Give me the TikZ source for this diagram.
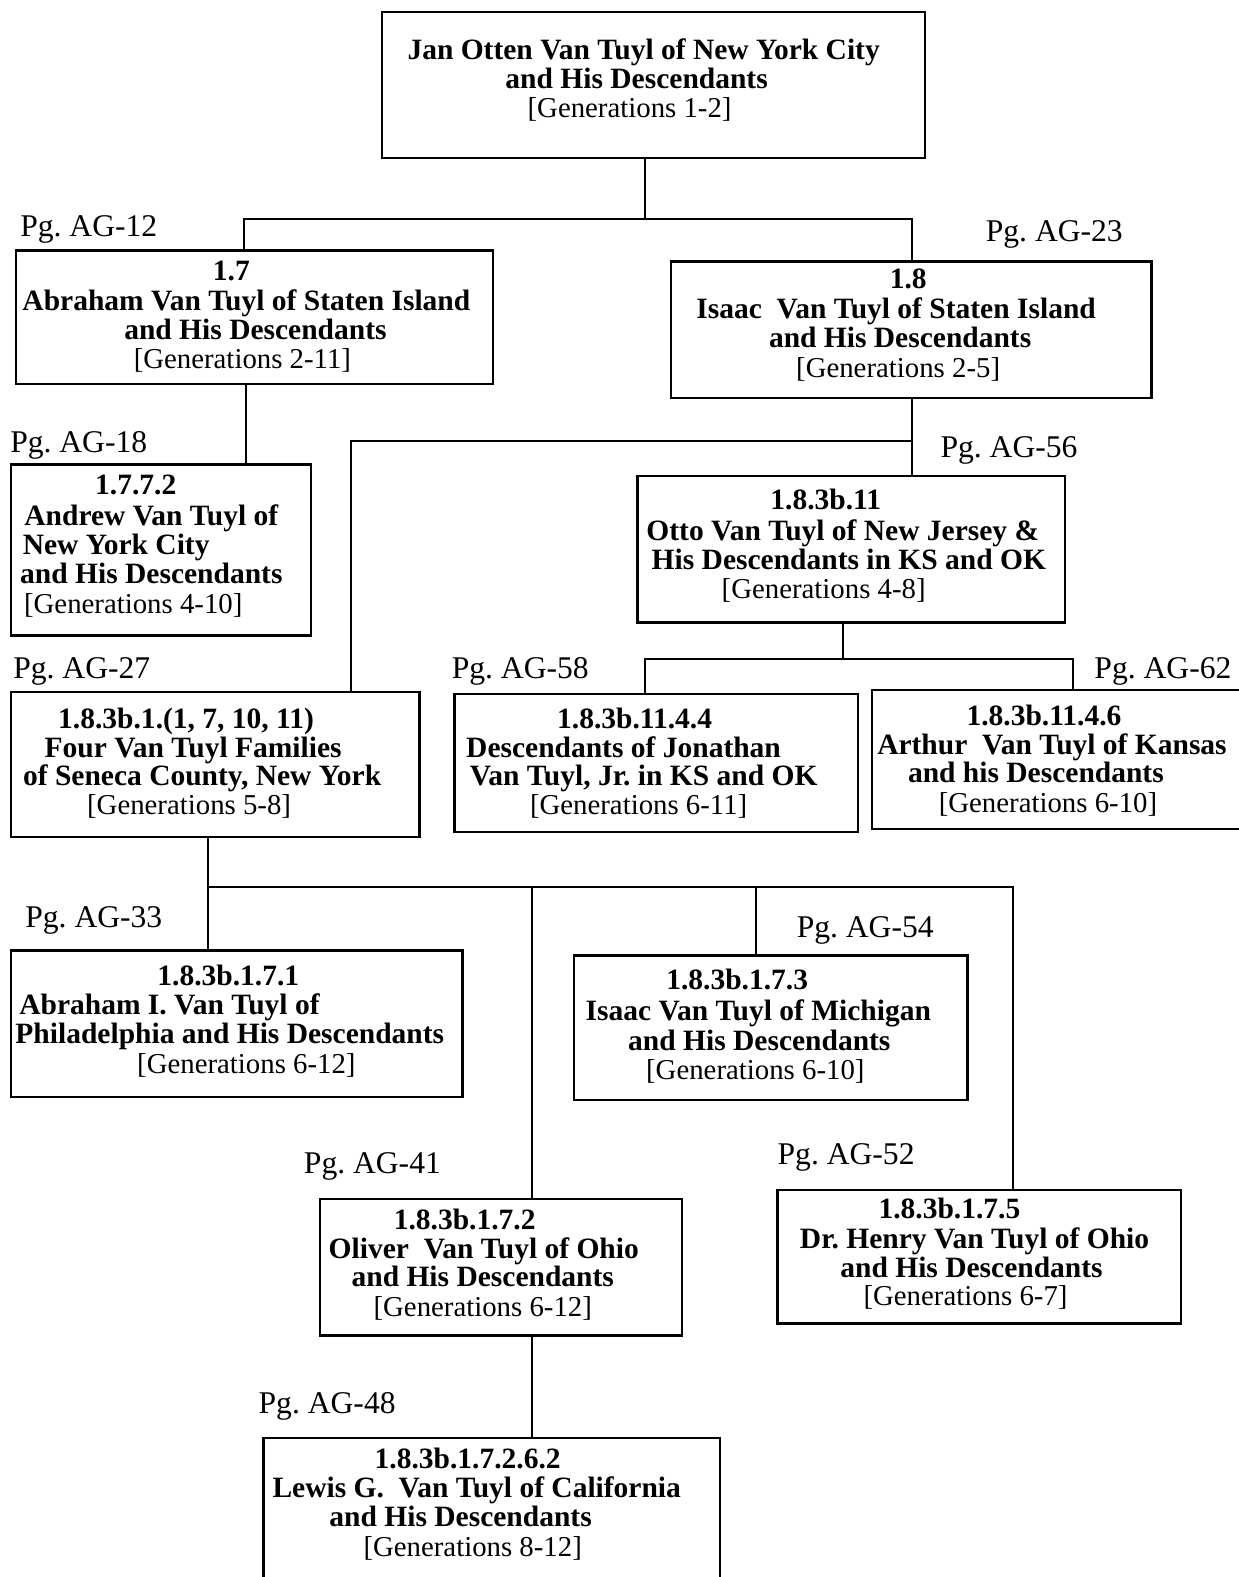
\documentclass[tikz,border=0pt]{standalone}
\usepackage{fontspec}
\setmainfont{Liberation Serif}
\usetikzlibrary{fit}
\frenchspacing
\begin{document}
\begin{tikzpicture}[x=1.0057pt,y=-1.0057pt,
  box/.style={draw, line width=2.4pt, inner sep=0pt},
  conn/.style={line width=2pt},
  bt/.style={anchor=base, inner sep=0pt, font=\fontsize{29.5}{29}\selectfont\bfseries},
  rt/.style={anchor=base, inner sep=0pt, font=\fontsize{28.8}{29}\selectfont},
  pg/.style={anchor=base west, inner sep=0pt, font=\fontsize{31.6}{32}\selectfont}]
\useasboundingbox[fill=white] (0,0) rectangle (1231,1568);

% ---------- boxes ----------
\node[box, fit={(380,12) (920,157)}] (top) {};
\node[box, fit={(16,249) (490,382)}] (b17) {};
\node[box, fit={(667,260) (1145,396)}] (b18) {};
\node[box, fit={(11,462) (309,632)}] (b1772) {};
\node[box, fit={(634,473) (1059,619)}] (botto) {};
\node[box, fit={(11,688) (417,832)}] (bfour) {};
\node[box, fit={(452,690) (853,827)}] (bj) {};
\node[box, fit={(867,686) (1245,824)}] (bart) {};
\node[box, fit={(11,945) (460,1091)}] (bp) {};
\node[box, fit={(571,950) (962,1094)}] (bm) {};
\node[box, fit={(318,1192) (678,1328)}] (bo) {};
\node[box, fit={(773,1183) (1174,1316)}] (bh) {};
\node[box, fit={(262,1430) (716,1580)}] (bl) {};

% ---------- connectors ----------
\coordinate (j1) at (641,218);
\coordinate (j1l) at (243,218);
\coordinate (j1r) at (907,218);
\draw[conn] (top.south -| j1) -- (j1);
\draw[conn] (b17.north -| j1l) -- (j1l) -- (j1r) -- (b18.north -| j1r);

\coordinate (j2) at (245,400);
\draw[conn] (b17.south -| j2) -- (b1772.north -| j2);

\coordinate (j3) at (907,438);
\coordinate (j3l) at (349,438);
\draw[conn] (b18.south -| j3) -- (botto.north -| j3);
\draw[conn] (j3) -- (j3l) -- (bfour.north -| j3l);

\coordinate (j4) at (838,655);
\coordinate (j4l) at (641,655);
\coordinate (j4r) at (1067,655);
\draw[conn] (botto.south -| j4) -- (j4);
\draw[conn] (bj.north -| j4l) -- (j4l) -- (j4r) -- (bart.north -| j4r);

\coordinate (j5) at (207,882);
\coordinate (j5a) at (529,882);
\coordinate (j5b) at (752,882);
\coordinate (j5r) at (1007,882);
\draw[conn] (bfour.south -| j5) -- (bp.north -| j5);
\draw[conn] (j5) -- (j5r) -- (bh.north -| j5r);
\draw[conn] (j5a) -- (bo.north -| j5a);
\draw[conn] (j5b) -- (bm.north -| j5b);

\coordinate (j6) at (529,1380);
\draw[conn] (bo.south -| j6) -- (bl.north -| j6);

% ---------- page labels ----------
\node[pg] (p12) at (20,235) {Pg. AG-12};
\node[pg] (p23) at (980,240) {Pg. AG-23};
\node[pg] (p18) at (10,450) {Pg. AG-18};
\node[pg] (p56) at (935,455) {Pg. AG-56};
\node[pg] (p27) at (13,675) {Pg. AG-27};
\node[pg] (p58) at (449,675) {Pg. AG-58};
\node[pg] (p62) at (1088,675) {Pg. AG-62};
\node[pg] (p33) at (25,922) {Pg. AG-33};
\node[pg] (p54) at (792,932) {Pg. AG-54};
\node[pg] (p41) at (302,1167) {Pg. AG-41};
\node[pg] (p52) at (773,1158) {Pg. AG-52};
\node[pg] (p48) at (257,1405) {Pg. AG-48};

% ---------- box texts ----------
\node[bt] (ta1) at (640,59) {Jan Otten Van Tuyl of New York City};
\node[bt] (ta2) at (633,88) {and His Descendants};
\node[rt] (ta3) at (626,117) {[Generations 1-2]};

\node[bt] (tb1) at (230,279) {1.7};
\node[bt] (tb2) at (245,309) {Abraham Van Tuyl of Staten Island};
\node[bt] (tb3) at (254,338) {and His Descendants};
\node[rt] (tb4) at (241,366) {[Generations 2-11]};

\node[bt] (tc1) at (903,287) {1.8};
\node[bt] (tc2) at (891,317) {Isaac\ \ Van Tuyl of Staten Island};
\node[bt] (tc3) at (895,346) {and His Descendants};
\node[rt] (tc4) at (893,375) {[Generations 2-5]};

\node[bt] (td1) at (135,492) {1.7.7.2};
\node[bt] (td2) at (150.5,522) {Andrew Van Tuyl of};
\node[bt] (td3) at (115.5,551) {New York City};
\node[bt] (td4) at (150.5,580) {and His Descendants};
\node[rt] (td5) at (132.5,610) {[Generations 4-10]};

\node[bt] (te1) at (821,507) {1.8.3b.11};
\node[bt] (te2) at (838,537) {Otto Van Tuyl of New Jersey \&};
\node[bt] (te3) at (844,566) {His Descendants in KS and OK};
\node[rt] (te4) at (819,595) {[Generations 4-8]};

\node[bt] (tf1) at (185,724) {1.8.3b.1.(1, 7, 10, 11)};
\node[bt] (tf2) at (192,753) {Four Van Tuyl Families};
\node[bt] (tf3) at (201,781) {of Seneca County, New York};
\node[rt] (tf4) at (188,810) {[Generations 5-8]};

\node[bt] (tg1) at (631,724) {1.8.3b.11.4.4};
\node[bt] (tg2) at (620,753) {Descendants of Jonathan};
\node[bt] (tg3) at (640,781) {Van Tuyl, Jr. in KS and OK};
\node[rt] (tg4) at (635,810) {[Generations 6-11]};

\node[bt] (th1) at (1038,721) {1.8.3b.11.4.6};
\node[bt] (th2) at (1046,750) {Arthur\ \ Van Tuyl of Kansas};
\node[bt] (th3) at (1030,778) {and his Descendants};
\node[rt] (th4) at (1042,808) {[Generations 6-10]};

\node[bt] (ti1) at (227,980) {1.8.3b.1.7.1};
\node[bt] (ti2) at (168.5,1009) {Abraham I. Van Tuyl of};
\node[bt] (ti3) at (228.5,1038) {Philadelphia and His Descendants};
\node[rt] (ti4) at (245,1067) {[Generations 6-12]};

\node[bt] (tj1) at (733,984) {1.8.3b.1.7.3};
\node[bt] (tj2) at (754,1015) {Isaac Van Tuyl of Michigan};
\node[bt] (tj3) at (755,1044) {and His Descendants};
\node[rt] (tj4) at (751,1073) {[Generations 6-10]};

\node[bt] (tk1) at (462,1222) {1.8.3b.1.7.2};
\node[bt] (tk2) at (481,1251) {Oliver\ \ Van Tuyl of Ohio};
\node[bt] (tk3) at (480,1279) {and His Descendants};
\node[rt] (tk4) at (480,1309) {[Generations 6-12]};

\node[bt] (tl1) at (944,1212) {1.8.3b.1.7.5};
\node[bt] (tl2) at (969,1241) {Dr. Henry Van Tuyl of Ohio};
\node[bt] (tl3) at (966,1270) {and His Descendants};
\node[rt] (tl4) at (960,1298) {[Generations 6-7]};

\node[bt] (tm1) at (465,1460) {1.8.3b.1.7.2.6.2};
\node[bt] (tm2) at (474,1489) {Lewis G.\ \ Van Tuyl of California};
\node[bt] (tm3) at (458,1518) {and His Descendants};
\node[rt] (tm4) at (470,1548) {[Generations 8-12]};
\end{tikzpicture}
\end{document}
